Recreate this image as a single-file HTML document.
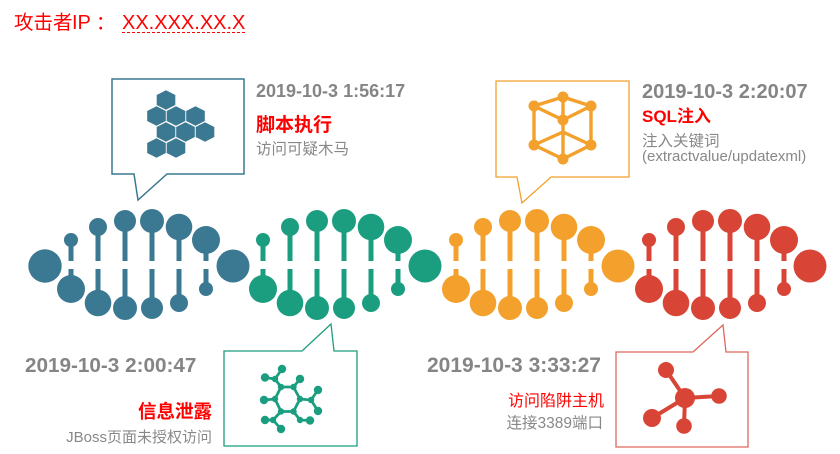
<!DOCTYPE html>
<html><head><meta charset="utf-8"><style>
html,body{margin:0;padding:0;background:#fff;width:840px;height:454px;overflow:hidden;}
svg{display:block;}
text{font-family:"Liberation Sans","Noto Sans CJK SC",sans-serif;}
</style></head><body>
<svg width="840" height="454" viewBox="0 0 840 454" xmlns="http://www.w3.org/2000/svg">
<defs>
<g id="strand">
 <rect x="-2.5" y="240" width="5" height="21"/>
 <rect x="24.5" y="227" width="5" height="34"/>
 <rect x="51.5" y="221" width="5" height="40"/>
 <rect x="78.5" y="221" width="5" height="40"/>
 <rect x="105.5" y="227" width="5" height="34"/>
 <rect x="132.5" y="240" width="5" height="21"/>
 <rect x="-2.5" y="269" width="5" height="20"/>
 <rect x="24.5" y="269" width="5" height="34"/>
 <rect x="51.5" y="269" width="5" height="39"/>
 <rect x="78.5" y="269" width="5" height="39"/>
 <rect x="105.5" y="269" width="5" height="34"/>
 <rect x="132.5" y="269" width="5" height="20"/>
 <circle cx="0" cy="240" r="7"/>
 <circle cx="27" cy="227" r="9"/>
 <circle cx="54" cy="221" r="11"/>
 <circle cx="81" cy="221" r="12"/>
 <circle cx="108" cy="227" r="13.3"/>
 <circle cx="135" cy="240" r="14"/>
 <circle cx="0" cy="289" r="14"/>
 <circle cx="27" cy="303" r="13.3"/>
 <circle cx="54" cy="308" r="12"/>
 <circle cx="81" cy="308" r="11"/>
 <circle cx="108" cy="303" r="9"/>
 <circle cx="135" cy="289" r="7"/>
</g>
<polygon id="hx" points="0,-9.8 9.3,-5 9.3,5 0,9.8 -9.3,5 -9.3,-5"/>
</defs>

<!-- Title -->
<text x="14" y="29" font-size="19.5" fill="#ff0000">攻击者</text>
<text x="72" y="29" font-size="20" fill="#ff0000">IP</text>
<text x="96" y="29" font-size="19" fill="#ff0000">：</text>
<text x="122" y="29" font-size="20" fill="#ff0000">XX.XXX.XX.X</text>
<line x1="122" y1="32.5" x2="245" y2="32.5" stroke="#ff0000" stroke-width="1" stroke-dasharray="3,2"/>

<!-- DNA strands -->
<g fill="#3b7892">
 <circle cx="45" cy="266" r="16.7"/>
 <use href="#strand" x="71" y="0"/>
 <circle cx="233" cy="266" r="16.5"/>
</g>
<g fill="#1b9e7f">
 <use href="#strand" x="263" y="0"/>
 <circle cx="425" cy="266" r="16.5"/>
</g>
<g fill="#f3a12c">
 <use href="#strand" x="456" y="0"/>
 <circle cx="618" cy="266" r="16.5"/>
</g>
<g fill="#d84536">
 <use href="#strand" x="649" y="0"/>
 <circle cx="810" cy="266" r="16.5"/>
</g>

<!-- Blue callout -->
<path d="M112,79 H244 V174 H167 L138,200 L134,174 H112 Z" fill="#fff" stroke="#3b7892" stroke-width="1.5"/>
<g fill="#3b7892">
 <use href="#hx" x="166" y="100"/>
 <use href="#hx" x="156.5" y="116"/>
 <use href="#hx" x="176" y="116"/>
 <use href="#hx" x="195.5" y="116"/>
 <use href="#hx" x="166" y="132"/>
 <use href="#hx" x="185.5" y="132"/>
 <use href="#hx" x="205" y="132"/>
 <use href="#hx" x="156.5" y="148"/>
 <use href="#hx" x="176" y="148"/>
</g>
<text x="256" y="97" font-size="18" font-weight="bold" fill="#858585">2019-10-3 1:56:17</text>
<text x="256" y="131" font-size="19" font-weight="bold" fill="#ff0000">脚本执行</text>
<text x="256" y="154" font-size="15.5" fill="#888">访问可疑木马</text>

<!-- Orange callout -->
<path d="M496,81 H629 V177 H551 L522,203 L517,177 H496 Z" fill="#fff" stroke="#f3a12c" stroke-width="1.3"/>
<g stroke="#f3a12c" stroke-width="3.4" fill="none" stroke-linecap="round">
 <line x1="563" y1="97" x2="534" y2="106"/>
 <line x1="563" y1="97" x2="591" y2="106"/>
 <line x1="534" y1="106" x2="563" y2="120"/>
 <line x1="591" y1="106" x2="563" y2="120"/>
 <line x1="563" y1="97" x2="563" y2="159"/>
 <line x1="534" y1="106" x2="534" y2="145"/>
 <line x1="591" y1="106" x2="591" y2="145"/>
 <line x1="534" y1="145" x2="563" y2="159"/>
 <line x1="591" y1="145" x2="563" y2="159"/>
 <line x1="534" y1="145" x2="563" y2="132"/>
 <line x1="591" y1="145" x2="563" y2="132"/>
</g>
<g fill="#f3a12c">
 <circle cx="563" cy="97" r="5.5"/>
 <circle cx="534" cy="106" r="5.5"/>
 <circle cx="591" cy="106" r="5.5"/>
 <circle cx="563" cy="120" r="5.5"/>
 <circle cx="534" cy="145" r="5.5"/>
 <circle cx="591" cy="145" r="5.5"/>
 <circle cx="563" cy="159" r="5.5"/>
</g>
<text x="642" y="98" font-size="20" font-weight="bold" fill="#858585">2019-10-3 2:20:07</text>
<text x="642" y="122" font-size="17" font-weight="bold" fill="#ff0000">SQL注入</text>
<text x="642" y="146" font-size="15.5" fill="#888">注入关键词</text>
<text x="642" y="161" font-size="15" fill="#888">(extractvalue/updatexml)</text>

<!-- Green callout -->
<path d="M224,351 H302 L331,324 L334,351 H357 V446 H224 Z" fill="#fff" stroke="#1b9e7f" stroke-width="1.3"/>
<g stroke="#1b9e7f" stroke-width="2.8" fill="none" stroke-linejoin="round">
 <polygon points="281,387 293.5,387 300,399 293.5,411.5 281,411.5 275,399"/>
 <polyline points="281,387 275,379 265,377.5"/>
 <line x1="275" y1="379" x2="282" y2="369"/>
 <line x1="293.5" y1="387" x2="300" y2="379"/>
 <line x1="275" y1="399" x2="264" y2="400"/>
 <line x1="300" y1="399" x2="311" y2="400"/>
 <line x1="311" y1="400" x2="318" y2="390"/>
 <line x1="311" y1="400" x2="318" y2="411"/>
 <polyline points="281,411.5 273,420 265,420"/>
 <line x1="273" y1="420" x2="281" y2="429"/>
 <polyline points="293.5,411.5 300,420 310,420.5"/>
</g>
<g fill="#1b9e7f">
 <circle cx="282" cy="369" r="4.2"/>
 <circle cx="265" cy="377.5" r="4.2"/>
 <circle cx="275" cy="379" r="3.2"/>
 <circle cx="300" cy="379" r="4.2"/>
 <circle cx="281" cy="387" r="3.2"/>
 <circle cx="293.5" cy="387" r="3.2"/>
 <circle cx="275" cy="399" r="3.2"/>
 <circle cx="300" cy="399" r="3.2"/>
 <circle cx="264" cy="400" r="4.2"/>
 <circle cx="311" cy="400" r="3.2"/>
 <circle cx="318" cy="390" r="4.2"/>
 <circle cx="318" cy="411" r="4.2"/>
 <circle cx="281" cy="411.5" r="3.2"/>
 <circle cx="293.5" cy="411.5" r="3.2"/>
 <circle cx="273" cy="420" r="3.2"/>
 <circle cx="265" cy="420" r="4.2"/>
 <circle cx="281" cy="429" r="4.2"/>
 <circle cx="300" cy="420" r="3.2"/>
 <circle cx="310" cy="420.5" r="4.2"/>
</g>
<text x="25" y="372" font-size="20.7" font-weight="bold" fill="#858585">2019-10-3 2:00:47</text>
<text x="212" y="418" font-size="18.5" font-weight="bold" fill="#ff0000" text-anchor="end">信息泄露</text>
<text x="212" y="442" font-size="15" fill="#888" text-anchor="end">JBoss页面未授权访问</text>

<!-- Red callout -->
<path d="M616,352 H693 L723,325 L726,352 H748 V447 H616 Z" fill="#fff" stroke="#e0675d" stroke-width="1.3"/>
<g stroke="#d84536" stroke-width="4" stroke-linecap="round">
 <line x1="685" y1="398" x2="666" y2="370"/>
 <line x1="685" y1="398" x2="719" y2="396"/>
 <line x1="685" y1="398" x2="652" y2="418"/>
 <line x1="685" y1="398" x2="684" y2="426"/>
</g>
<g fill="#d84536">
 <circle cx="685" cy="398" r="10"/>
 <circle cx="666" cy="370" r="8"/>
 <circle cx="719" cy="396" r="7.8"/>
 <circle cx="652" cy="418" r="9"/>
 <circle cx="684" cy="426" r="7.8"/>
</g>
<text x="427" y="372" font-size="21" font-weight="bold" fill="#858585">2019-10-3 3:33:27</text>
<text x="604" y="406" font-size="16" fill="#ff0000" text-anchor="end">访问陷阱主机</text>
<text x="603" y="428" font-size="15.5" fill="#888" text-anchor="end">连接3389端口</text>
</svg>
</body></html>
